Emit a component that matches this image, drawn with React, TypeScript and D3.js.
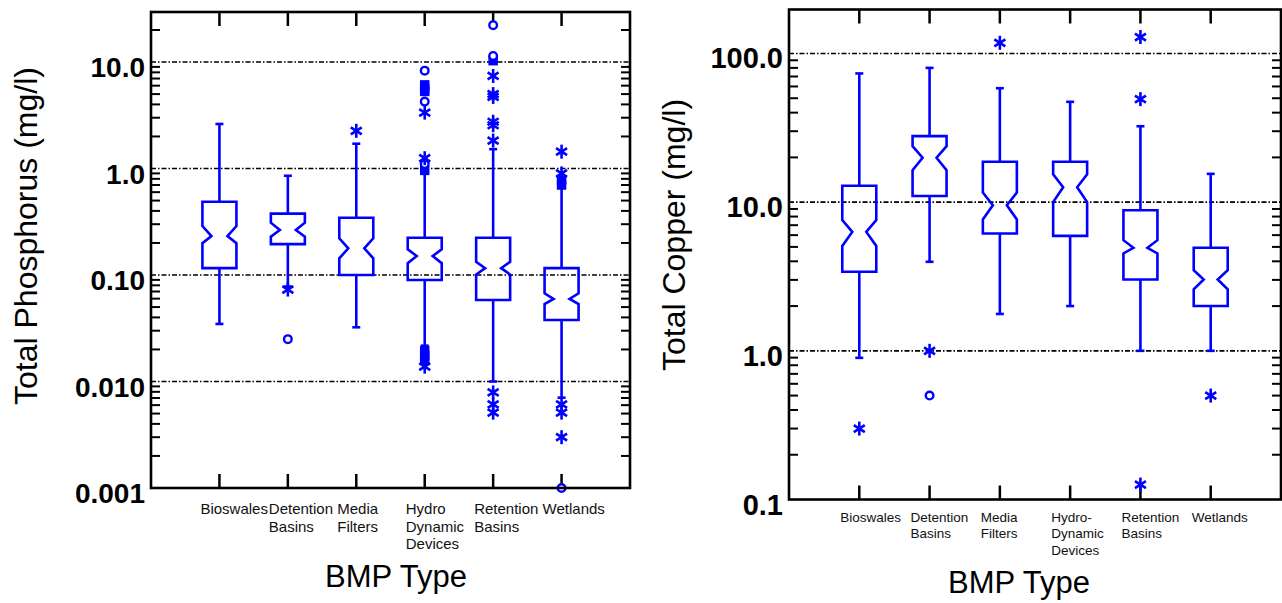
import React from 'react';
import * as d3 from 'd3';

// ---------- DATA ----------
const pCategories: string[][] = [["Bioswales"], ["Detention", "Basins"], ["Media", "Filters"], ["Hydro", "Dynamic", "Devices"], ["Retention", "Basins"], ["Wetlands"]];
const cuCategories: string[][] = [["Bioswales"], ["Detention", "Basins"], ["Media", "Filters"], ["Hydro-", "Dynamic", "Devices"], ["Retention", "Basins"], ["Wetlands"]];

// Total Phosphorus (mg/l)
const pWhiskerHi = [2.62, 0.855, 1.71, 0.9, 1.52, 0.66];
const pQ3 = [0.488, 0.377, 0.345, 0.224, 0.224, 0.116];
const pNotchHi = [0.288, 0.31, 0.221, 0.174, 0.133, 0.0673];
const pMedian = [0.232, 0.265, 0.178, 0.151, 0.116, 0.0596];
const pNotchLo = [0.199, 0.229, 0.1435, 0.129, 0.101, 0.0534];
const pQ1 = [0.116, 0.195, 0.1, 0.0898, 0.0582, 0.0378];
const pWhiskerLo = [0.0347, 0.078, 0.0323, 0.0217, 0.01, 0.00705];
const pStars = [[], [0.073], [2.26], [3.35, 1.25, 0.0138], [7.4, 5.0, 4.7, 2.75, 2.55, 1.83, 0.0079, 0.0061, 0.0051], [1.44, 0.9, 0.0061, 0.0051, 0.003]];
const pCircles = [[], [0.025], [], [8.3, 4.25, 1.1], [22.2, 11.4], [0.001]];
const pSquares = [[], [], [], [6.1, 5.6, 5.3, 0.96, 0.0195, 0.0175, 0.016], [10.3], [0.78, 0.7]];
const pTickValues = [10, 1, 0.1, 0.01, 0.001];
const pTickLabels = ["10.0", "1.0", "0.10", "0.010", "0.001"];

// Total Copper (mg/l)
const cuWhiskerHi = [73.4, 80, 58.4, 47.3, 32.4, 15.5];
const cuQ3 = [12.9, 27.8, 18.7, 18.7, 8.83, 4.93];
const cuNotchHi = [7.57, 23.8, 11.6, 15.4, 5.55, 3.49];
const cuMedian = [6.31, 19.9, 9.54, 12.6, 4.93, 3.02];
const cuNotchLo = [5.08, 16.4, 7.65, 10.0, 4.52, 2.59];
const cuQ1 = [3.4, 11.0, 6.16, 5.93, 3.02, 2.0];
const cuWhiskerLo = [0.897, 3.97, 1.77, 2.0, 1.0, 1.0];
const cuStars = [[0.3], [1.0], [118], [], [129, 49.3, 0.126], [0.5]];
const cuCircles = [[], [0.5], [], [], [], []];
const cuSquares = [[], [], [], [], [], []];
const cuTickValues = [100, 10, 1, 0.1];
const cuTickLabels = ["100.0", "10.0", "1.0", "0.1"];

const BLUE = '#0000ff';
const FONT = '"Liberation Sans", Arial, Helvetica, sans-serif';

type PanelProps = {
  x0: number; x1: number; y0: number; y1: number;
  domain: [number, number];
  cats: string[][];
  whiskerHi: number[]; q3: number[]; notchHi: number[]; median: number[]; notchLo: number[]; q1: number[]; whiskerLo: number[];
  stars: number[][]; circles: number[][]; squares: number[][];
  tickValues: number[]; tickLabels: string[];
  tickFont: number; tickDy: number;
  catFont: number; catDy: number; catLine: number;
  yTitle: string; yTitleX: number; yTitleY: number;
  xTitleX: number; xTitleY: number;
  halfW: number; inset: number;
};

function Star({ x, y }: { x: number; y: number }) {
  return (
    <g stroke={BLUE} strokeWidth={2.6} strokeLinecap="butt">
      <line x1={x} y1={y - 7} x2={x} y2={y + 7} />
      <line x1={x - 5.5} y1={y - 3.5} x2={x + 5.5} y2={y + 3.5} />
      <line x1={x - 5.5} y1={y + 3.5} x2={x + 5.5} y2={y - 3.5} />
    </g>
  );
}

function Panel(p: PanelProps) {
  const idx = p.cats.map((_, i) => String(i));
  const x = d3.scalePoint<string>().domain(idx).range([p.x0, p.x1]).padding(1);
  const y = d3.scaleLog().domain(p.domain).range([p.y1, p.y0]);
  const minor: number[] = [];
  const lo = Math.floor(Math.log10(p.domain[0]));
  const hi = Math.ceil(Math.log10(p.domain[1]));
  for (let e = lo; e < hi; e++) {
    for (let m = 2; m <= 9; m++) {
      const v = m * Math.pow(10, e);
      if (v > p.domain[0] && v < p.domain[1]) minor.push(v);
    }
  }
  const hw = p.halfW, ins = p.inset;
  return (
    <g>
      {p.tickValues.filter(v => v > p.domain[0] && v < p.domain[1]).map((v, i) => (
        <line key={'g' + i} x1={p.x0} x2={p.x1} y1={y(v)} y2={y(v)} stroke="#000" strokeWidth={1.6} strokeDasharray="5,2,1.5,2" />
      ))}
      {minor.map((v, i) => (
        <g key={'m' + i} stroke="#000" strokeWidth={2}>
          <line x1={p.x0} x2={p.x0 + 9} y1={y(v)} y2={y(v)} />
          <line x1={p.x1} x2={p.x1 - 9} y1={y(v)} y2={y(v)} />
        </g>
      ))}
      {idx.map((k) => (
        <g key={'t' + k} stroke="#000" strokeWidth={2.5}>
          <line x1={x(k)} x2={x(k)} y1={p.y0} y2={p.y0 + 14} />
          <line x1={x(k)} x2={x(k)} y1={p.y1} y2={p.y1 - 14} />
        </g>
      ))}
      {idx.map((k, i) => {
        const cx = x(k) as number;
        const path = d3.path();
        path.moveTo(cx - hw, y(p.q3[i]));
        path.lineTo(cx + hw, y(p.q3[i]));
        path.lineTo(cx + hw, y(p.notchHi[i]));
        path.lineTo(cx + hw - ins, y(p.median[i]));
        path.lineTo(cx + hw, y(p.notchLo[i]));
        path.lineTo(cx + hw, y(p.q1[i]));
        path.lineTo(cx - hw, y(p.q1[i]));
        path.lineTo(cx - hw, y(p.notchLo[i]));
        path.lineTo(cx - hw + ins, y(p.median[i]));
        path.lineTo(cx - hw, y(p.notchHi[i]));
        path.closePath();
        return (
          <g key={'b' + k} stroke={BLUE} strokeWidth={2.6} fill="none">
            <line x1={cx} x2={cx} y1={y(p.whiskerHi[i])} y2={y(p.q3[i])} />
            <line x1={cx} x2={cx} y1={y(p.q1[i])} y2={y(p.whiskerLo[i])} />
            <line x1={cx - 4} x2={cx + 4} y1={y(p.whiskerHi[i])} y2={y(p.whiskerHi[i])} />
            <line x1={cx - 4} x2={cx + 4} y1={y(p.whiskerLo[i])} y2={y(p.whiskerLo[i])} />
            <path d={path.toString()} strokeLinejoin="miter" />
          </g>
        );
      })}
      {idx.map((k, i) => {
        const cx = x(k) as number;
        return (
          <g key={'o' + k}>
            {p.squares[i].map((v, j) => (
              <rect key={'s' + j} x={cx - 4} y={y(v) - 4} width={8} height={8} fill={BLUE} stroke={BLUE} strokeWidth={1.5} />
            ))}
            {p.circles[i].map((v, j) => (
              <circle key={'c' + j} cx={cx} cy={y(v)} r={3.8} fill="#fff" stroke={BLUE} strokeWidth={2.4} />
            ))}
            {p.stars[i].map((v, j) => (
              <Star key={'st' + j} x={cx} y={y(v)} />
            ))}
          </g>
        );
      })}
      <rect x={p.x0} y={p.y0} width={p.x1 - p.x0} height={p.y1 - p.y0} fill="none" stroke="#000" strokeWidth={2.6} />
      {p.tickValues.map((v, i) => (
        <text key={'yl' + i} x={p.x0 - 6} y={y(v) + p.tickDy} textAnchor="end" fontFamily={FONT} fontWeight="bold" fontSize={p.tickFont} fill="#000">{p.tickLabels[i]}</text>
      ))}
      {idx.map((k, i) => (
        <text key={'cl' + k} x={(x(k) as number) - 19} y={p.y1 + p.catDy} fontFamily={FONT} fontSize={p.catFont} fill="#111">
          {p.cats[i].map((line, j) => (
            <tspan key={j} x={(x(k) as number) - 19} y={p.y1 + p.catDy + j * p.catLine}>{line}</tspan>
          ))}
        </text>
      ))}
      <text transform={`translate(${p.yTitleX},${p.yTitleY}) rotate(-90)`} textAnchor="middle" fontFamily={FONT} fontSize={32} fill="#000">{p.yTitle}</text>
      <text x={p.xTitleX} y={p.xTitleY} textAnchor="middle" fontFamily={FONT} fontSize={31} fill="#000">BMP Type</text>
    </g>
  );
}

export default function App() {
  return (
    <svg width={1282} height={603} style={{ position: 'absolute', left: 0, top: 0, background: '#fff' }}>
      <Panel
        x0={151} x1={630} y0={12} y1={488} domain={[0.001, 29.5]} cats={pCategories}
        whiskerHi={pWhiskerHi} q3={pQ3} notchHi={pNotchHi} median={pMedian} notchLo={pNotchLo} q1={pQ1} whiskerLo={pWhiskerLo}
        stars={pStars} circles={pCircles} squares={pSquares}
        tickValues={pTickValues} tickLabels={pTickLabels} tickFont={28} tickDy={15}
        catFont={15} catDy={26} catLine={17.5}
        yTitle="Total Phosphorus (mg/l)" yTitleX={37} yTitleY={236}
        xTitleX={396} xTitleY={587} halfW={17} inset={9}
      />
      <Panel
        x0={789} x1={1281} y0={9.5} y1={499.5} domain={[0.1, 197.6]} cats={cuCategories}
        whiskerHi={cuWhiskerHi} q3={cuQ3} notchHi={cuNotchHi} median={cuMedian} notchLo={cuNotchLo} q1={cuQ1} whiskerLo={cuWhiskerLo}
        stars={cuStars} circles={cuCircles} squares={cuSquares}
        tickValues={cuTickValues} tickLabels={cuTickLabels} tickFont={29} tickDy={15}
        catFont={13.5} catDy={22.4} catLine={16.3}
        yTitle="Total Copper (mg/l)" yTitleX={685} yTitleY={235}
        xTitleX={1019} xTitleY={593} halfW={17} inset={10}
      />
    </svg>
  );
}
